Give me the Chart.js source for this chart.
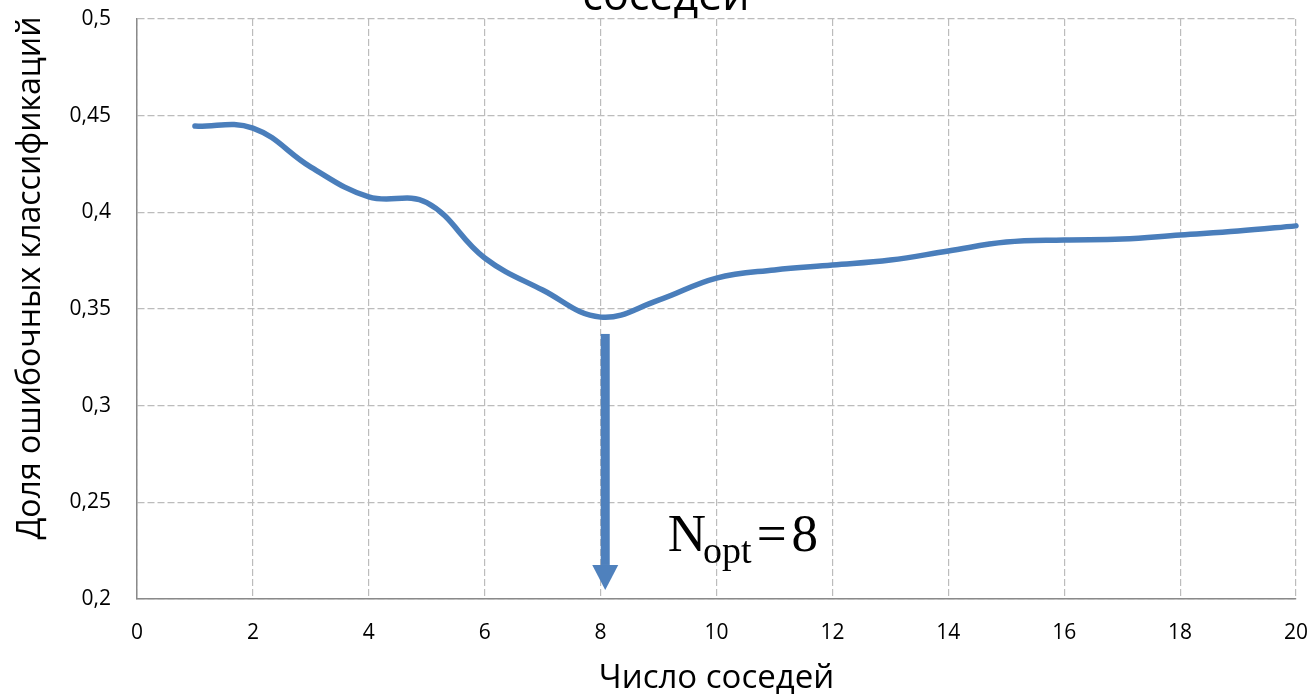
<!DOCTYPE html>
<html>
<head>
<meta charset="utf-8">
<script src="https://cdn.jsdelivr.net/npm/chart.js@4"></script>
<style>
  html, body { margin: 0; padding: 0; background: #fff; overflow: hidden; }
  #wrap { width: 1312px; height: 698px; position: relative; }
</style>
</head>
<body>
<div id="wrap"><canvas id="c" width="1312" height="698"></canvas></div>
<script>
// ---- data ----
const neighbours = [1, 2, 3, 4, 5, 6, 7, 8, 9, 10, 11, 12, 13, 14, 15, 16, 17, 18, 19, 20];
const errorRate = [0.4446, 0.4436, 0.4234, 0.4080, 0.4050, 0.3764, 0.3598, 0.3458,
                   0.3546, 0.3660, 0.3702, 0.3727, 0.3753, 0.3800, 0.3846, 0.3857,
                   0.3862, 0.3883, 0.3903, 0.3930];
const xTicks = [0, 2, 4, 6, 8, 10, 12, 14, 16, 18, 20];
const yTicks = [0.2, 0.25, 0.3, 0.35, 0.4, 0.45, 0.5];
const yTickLabels = ['0,2', '0,25', '0,3', '0,35', '0,4', '0,45', '0,5'];
const titleText = 'соседей';
const xTitle = 'Число соседей';
const yTitle = 'Доля ошибочных классификаций';
// annotation: arrow pointing at optimum
const optimumN = 8;
const arrowX = 8.08;
const arrowTop = 0.3371;
const arrowTip = 0.2047;
const arrowHeadBase = 0.2176;
const labelX = 9.16;
const labelY = 0.2248;

const points = neighbours.map((n, i) => ({x: n, y: errorRate[i]}));
const blue = '#4a7ebb';

const extras = {
  id: 'extras',
  afterDatasetsDraw(chart) {
    const ctx = chart.ctx;
    const xs = chart.scales.x, ys = chart.scales.y;
    // arrow
    const ax = xs.getPixelForValue(arrowX);
    const y1 = ys.getPixelForValue(arrowTop);
    const y2 = ys.getPixelForValue(arrowTip);
    const yh = ys.getPixelForValue(arrowHeadBase);
    ctx.save();
    ctx.fillStyle = '#4f81bd';
    ctx.fillRect(ax - 4.5, y1, 9, yh - y1);
    ctx.beginPath();
    ctx.moveTo(ax - 13, yh);
    ctx.lineTo(ax + 13, yh);
    ctx.lineTo(ax, y2);
    ctx.closePath();
    ctx.fill();
    // label N_opt = 8
    const lx = xs.getPixelForValue(labelX);
    const ly = ys.getPixelForValue(labelY);
    ctx.fillStyle = '#000';
    ctx.textBaseline = 'alphabetic';
    ctx.textAlign = 'left';
    ctx.font = '53px "Liberation Serif", serif';
    ctx.fillText('N', lx, ly);
    let cx = lx + ctx.measureText('N').width;
    ctx.font = '38px "Liberation Serif", serif';
    ctx.fillText('opt', cx - 3, ly + 12);
    cx += ctx.measureText('opt').width;
    ctx.font = '53px "Liberation Serif", serif';
    ctx.fillText('=', cx + 2, ly);
    cx += ctx.measureText('=').width + 7;
    ctx.fillText(String(optimumN), cx, ly);
    ctx.restore();
  },
  afterDraw(chart) {
    const ctx = chart.ctx;
    ctx.save();
    ctx.fillStyle = '#000';
    // chart title (cut off at top)
    ctx.font = '43px "Open Sans", sans-serif';
    ctx.textAlign = 'center';
    ctx.textBaseline = 'alphabetic';
    ctx.fillText(titleText, 666, 10);
    // y axis title
    ctx.translate(40, 278);
    ctx.rotate(-Math.PI / 2);
    ctx.font = '32px "Open Sans", sans-serif';
    ctx.fillText(yTitle, 0, 0);
    ctx.restore();
  }
};

new Chart(document.getElementById('c'), {
  type: 'line',
  data: {
    datasets: [{
      data: points,
      borderColor: blue,
      borderWidth: 5.5,
      borderCapStyle: 'round',
      borderJoinStyle: 'round',
      pointRadius: 0,
      tension: 0.4,
      fill: false,
      clip: false
    }]
  },
  options: {
    responsive: false,
    animation: false,
    devicePixelRatio: 1,
    layout: { padding: { top: 19, right: 16, left: 0, bottom: 0 } },
    plugins: { legend: { display: false }, tooltip: { enabled: false }, title: { display: false } },
    scales: {
      x: {
        type: 'linear',
        min: 0, max: 20,
        afterBuildTicks(scale) { scale.ticks = xTicks.map(v => ({value: v})); },
        afterFit(scale) { scale.height = 99; scale.paddingLeft = 0; scale.paddingRight = 0; },
        ticks: { font: { size: 21, family: '"Open Sans", sans-serif' }, color: '#000', padding: 21, maxRotation: 0 },
        grid: { color: '#bcbcbc', lineWidth: 1.2, drawTicks: false },
        border: { display: true, color: '#8a8a8a', width: 1.5, dash: [7, 3] },
        title: { display: true, text: xTitle, color: '#000', font: { size: 33, family: '"Open Sans", sans-serif' }, padding: { top: 0, bottom: 0 } }
      },
      y: {
        type: 'linear',
        min: 0.2, max: 0.5,
        afterBuildTicks(scale) { scale.ticks = yTicks.map(v => ({value: v})); },
        afterFit(scale) { scale.width = 137; scale.paddingTop = 0; scale.paddingBottom = 0; },
        ticks: {
          font: { size: 21, family: '"Open Sans", sans-serif' }, color: '#000', padding: 26,
          callback(value) { const i = yTicks.findIndex(t => Math.abs(t - value) < 1e-9); return i >= 0 ? yTickLabels[i] : ''; }
        },
        grid: { color: '#bcbcbc', lineWidth: 1.2, drawTicks: false },
        border: { display: true, color: '#8a8a8a', width: 1.5, dash: [7, 3] }
      }
    }
  },
  plugins: [extras]
});
</script>
</body>
</html>
